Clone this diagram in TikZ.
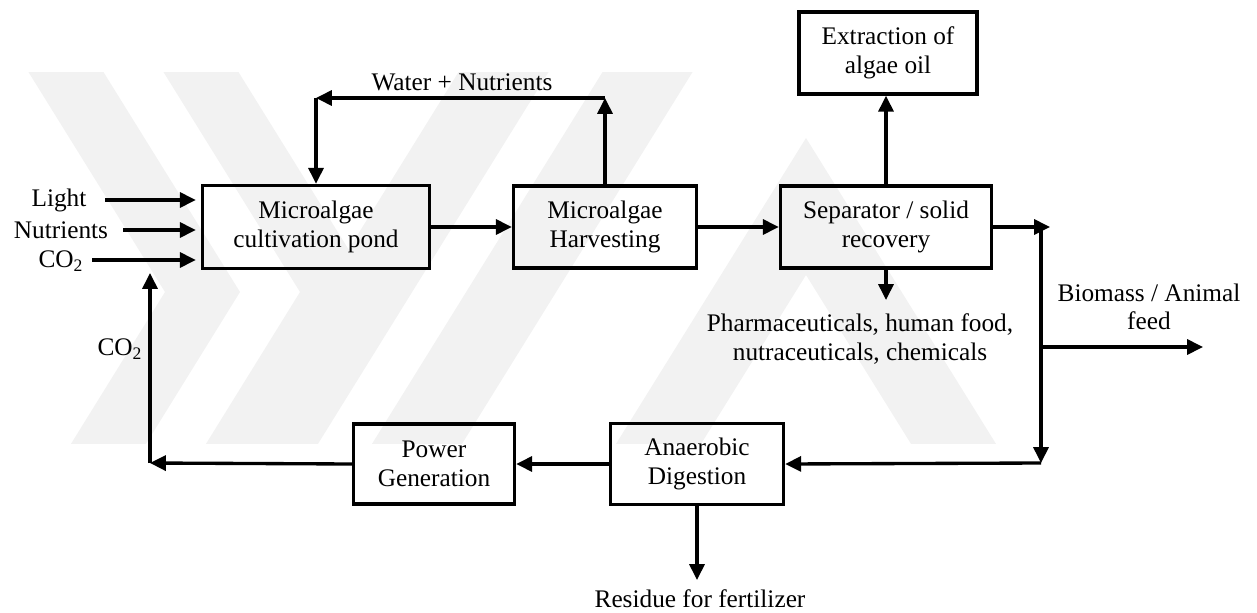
\documentclass[tikz,border=0pt]{standalone}
\usepackage{fontspec}
\setmainfont{Liberation Serif}
\usetikzlibrary{calc, arrows.meta, positioning}

\begin{document}
\begin{tikzpicture}[x=0.02cm, y=-0.02cm,
        every node/.style={font=\fontsize{14.4}{16.2}\selectfont},
        procbox/.style={draw, line width=2pt, align=center, inner sep=0pt},
        flowarr/.style={line width=1.9pt, -{Triangle[length=9pt,width=8.5pt]}},
        wmark/.style={fill=black!5, draw=none}]
        \useasboundingbox (0,0) rectangle (1257,612);

        % faint watermark
        \begin{scope}
            \clip (0,72) rectangle (1257,443);
            \fill[wmark] (96,60) -- (240,292) -- (136,460) -- (61,460) -- (165,292) -- (21,60) -- cycle;
            \fill[wmark] (231,60) -- (375,292) -- (271,460) -- (196,460) -- (300,292) -- (156,60) -- cycle;
            \fill[wmark] (466,60) -- (556,60) -- (308,460) -- (218,460) -- cycle;
            \fill[wmark] (610,60) -- (700,60) -- (452,460) -- (362,460) -- cycle;
            \fill[wmark] (606,460) -- (806,138) -- (1006,460) -- (921,460) -- (806,275) -- (691,460) -- cycle;
        \end{scope}

        \node[procbox, minimum width=4.54cm, minimum height=1.66cm] (cult) at (316,227) {Microalgae\\cultivation pond};
        \node[procbox, minimum width=3.66cm, minimum height=1.64cm] (harv) at (605,227) {Microalgae\\Harvesting};
        \node[procbox, minimum width=4.22cm, minimum height=1.64cm] (sep) at (886,227) {Separator / solid\\recovery};
        \node[procbox, minimum width=3.56cm, minimum height=1.64cm] (ext) at (888,53) {Extraction of\\algae oil};
        \node[procbox, minimum width=3.22cm, minimum height=1.60cm] (pow) at (434,464) {Power\\Generation};
        \node[procbox, minimum width=3.46cm, minimum height=1.62cm] (ana) at (697,464) {Anaerobic\\Digestion};

        \node (lLight) at (59,200) {Light};
        \node (lNutr) at (61,230) {Nutrients};
        \node (lCOin) at (61,261) {CO\textsubscript{2}};
        \node (lCOret) at (120,349) {CO\textsubscript{2}};
        \node (lWater) at (462,82) {Water + Nutrients};
        \node[align=center] (lPharm) at (860,339) {Pharmaceuticals, human food,\\nutraceuticals, chemicals};
        \node[align=center] (lFeed) at (1149,307) {Biomass / Animal\\feed};
        \node (lRes) at (700,599) {Residue for fertilizer};

        \coordinate (inLight) at (105,200);
        \coordinate (inNutr) at (123,230);
        \coordinate (inCO) at (92,260);
        \coordinate (wRow) at (0,98);
        \coordinate (sepOut) at (1050,227);
        \coordinate (busTop) at (1041,227);
        \coordinate (busMid) at (1041,347);
        \coordinate (busBot) at (1041,463);
        \coordinate (feedTip) at (1203,347);
        \coordinate (retCorner) at (150,463);
        \coordinate (retTop) at (150,273);
        \coordinate (pharmTip) at (886,300);
        \coordinate (resTip) at (697,580);

        % inputs
        \draw[flowarr, shorten >=0.1cm] (inLight) -- (cult.west |- inLight);
        \draw[flowarr, shorten >=0.1cm] (inNutr) -- (cult.west |- inNutr);
        \draw[flowarr, shorten >=0.1cm] (inCO) -- (cult.west |- inCO);

        % main line
        \draw[flowarr] (cult) -- (harv);
        \draw[flowarr] (harv) -- (sep);
        \draw[flowarr] (sep.north) -- (sep.north |- ext.south);
        \draw[flowarr] (sep.south) -- (pharmTip);

        % recycle of water
        \draw[flowarr] (harv.north) -- (harv.north |- wRow);
        \draw[flowarr] (harv.north |- wRow) -- (cult.north |- wRow);
        \draw[flowarr] (cult.north |- wRow) -- (cult.north);

        % biomass branch
        \draw[flowarr] (sep.east) -- (sepOut);
        \draw[flowarr] (busTop) -- (busBot);
        \draw[flowarr] (busMid) -- (feedTip);
        \draw[flowarr] (busBot) -- (ana.east);
        \draw[flowarr] (ana.west) -- (pow.east);
        \draw[flowarr] (ana.south) -- (resTip);
        \draw[flowarr] (pow.west) -- (retCorner);
        \draw[flowarr] (retCorner) -- (retTop);
\end{tikzpicture}
\end{document}
